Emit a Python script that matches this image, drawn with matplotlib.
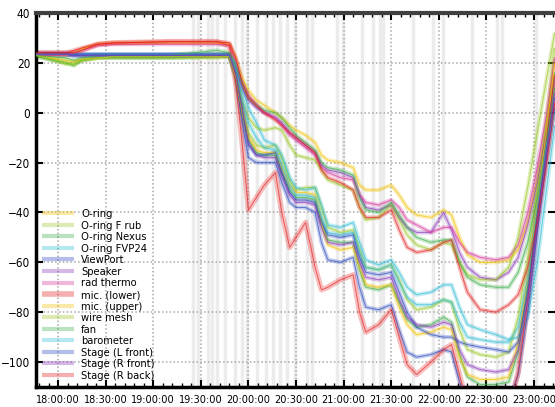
import matplotlib
matplotlib.use("Agg")
import matplotlib.pyplot as plt
from matplotlib.ticker import MultipleLocator, FuncFormatter
from matplotlib import font_manager

names = {f.name for f in font_manager.fontManager.ttflist}
narrow = [n for n in ["Liberation Sans Narrow", "DejaVu Sans Condensed"] if n in names]
plt.rcParams['font.family'] = narrow + ['DejaVu Sans']
plt.rcParams['font.stretch'] = 'condensed'

# time axis: minutes after 18:00:00
t = [-14, 5, 10, 15, 25, 35, 70, 100, 108,
     112, 116, 120, 125, 130, 137,
     141, 146, 150, 156, 162, 166, 170,
     178, 186, 190, 194, 202, 210,
     215, 220, 226, 235, 243, 248,
     253, 258, 266, 276, 284, 290,
     296, 302, 308, 313]

# light grey event markers (minutes after 18:00)
events = [85, 88, 94.5, 97, 100, 105, 111.5, 116, 119, 125.4, 131, 135.5, 140,
          144.3, 149.3, 157, 160, 176, 179.6, 191.5, 198.5, 203, 205, 223.7,
          236, 242.6, 261, 276.6, 279.8, 301]

o_ring = [23.5, 23, 24, 25.5, 27.5, 28, 28, 28, 27.5,
          22, 14, 9, 5, 3, 0,
          -2, -5, -7, -9, -12, -17, -19,
          -20, -22, -29, -31, -31, -29,
          -33, -38, -41, -42, -39, -41,
          -50, -57, -60, -60, -59, -55,
          -44, -27, -5, 15]
o_ring_f_rub = [23, 19.5, 20, 21, 22, 22, 22, 22, 22.5,
                15, 2, -8, -13, -14, -13,
                -18, -27, -31, -30, -30, -38, -46,
                -48, -47, -55, -62, -63, -61,
                -67, -75, -79, -78, -75, -76,
                -87, -95, -97, -98, -96, -82,
                -58, -30, -2, 26]
o_ring_nexus = [22.5, 20, 19, 21, 22, 22, 22, 22.5, 22.5,
                14, -1, -11, -16, -17, -17,
                -24, -31, -34, -34, -35, -44, -51,
                -52, -52, -63, -70, -71, -69,
                -76, -83, -86, -85, -82, -84,
                -97, -106, -109, -109, -108, -96,
                -70, -40, -10, 16]
o_ring_fvp24 = [23.5, 23.5, 23.5, 23.5, 23.5, 23.5, 23.5, 23.5, 23.5,
                20, 10, 2, -4, -11, -13,
                -17, -26, -30, -31, -30, -37, -45,
                -46, -44, -52, -59, -61, -59,
                -64, -70, -73, -72, -69, -69,
                -78, -85, -87, -89, -91, -90,
                -82, -60, -30, -5]
viewport = [24, 24, 23.5, 23.5, 23.5, 23.5, 23.5, 23.5, 23.5,
            14, -4, -18, -20, -20, -20,
            -28, -36, -38, -38, -40, -52, -59,
            -60, -58, -70, -78, -79, -77,
            -87, -96, -98, -97, -95, -96,
            -108, -115, -117, -117, -116, -105,
            -80, -48, -18, 2]
speaker = [23.5, 23.5, 23, 23, 23, 23, 23, 23, 23,
           18, 10, 5, 2, 0, -2,
           -4, -8, -10, -13, -16, -21, -23,
           -24, -26, -33, -38, -39, -37,
           -42, -46, -48, -48, -40, -47,
           -56, -62, -66, -67, -64, -58,
           -45, -28, -6, 14]
rad_thermo = [23, 23, 24, 25, 27, 27.5, 27.5, 27.5, 27,
              21, 12, 7, 3, 0, -2,
              -5, -9, -11, -14, -17, -22, -24,
              -26, -27, -33, -36, -37, -35,
              -38, -43, -45, -48, -46, -46,
              -52, -56, -58, -59, -58, -53,
              -40, -22, 0, 22]
mic_lower = [24, 24, 24, 25, 27.5, 28, 28.5, 28.5, 27,
             12, -12, -39, -34, -29, -24,
             -40, -54, -50, -44, -62, -71, -70,
             -67, -65, -80, -88, -85, -79,
             -90, -101, -105, -100, -95, -93,
             -105, -118, -122, -122, -120, -104,
             -75, -40, -10, 15]
mic_upper = [23, 21, 20.5, 21.5, 22, 22.5, 22.5, 22.5, 22.5,
             14, 0, -10, -15, -16, -16,
             -22, -29, -32, -32, -33, -44, -53,
             -55, -54, -62, -69, -70, -69,
             -78, -85, -89, -88, -86, -87,
             -98, -105, -107, -107, -106, -92,
             -66, -36, -6, 20]
wire_mesh = [23, 20, 19, 21, 22, 22.5, 22.5, 23, 23,
             16, 5, -2, -6, -7, -6,
             -7, -13, -17, -18, -19, -23, -27,
             -29, -31, -38, -43, -42, -37,
             -43, -49, -53, -55, -52, -53,
             -60, -65, -67, -67, -62, -50,
             -30, -8, 14, 32]
fan = [23, 22, 21, 22, 23, 23, 23, 25, 24,
       19, 12, 6, 3, 1, 0,
       -2, -6, -9, -12, -15, -20, -22,
       -23, -25, -34, -39, -40, -36,
       -41, -46, -50, -52, -51, -51,
       -60, -66, -69, -70, -70, -64,
       -52, -34, -12, 10]
barometer = [23.5, 23.5, 23, 23, 23, 23, 23, 23, 23,
             18, 6, -4, -10, -14, -15,
             -21, -29, -33, -33, -34, -42, -48,
             -49, -48, -56, -62, -63, -61,
             -68, -74, -77, -77, -75, -76,
             -84, -90, -91, -92, -92, -86,
             -66, -38, -12, 0]
stage_l_front = [23.5, 23.5, 23, 23, 23, 23, 23, 23, 23,
                 16, 2, -13, -17, -17, -16,
                 -24, -32, -35, -35, -36, -44, -49,
                 -50, -49, -58, -64, -65, -64,
                 -72, -80, -86, -89, -90, -90,
                 -92, -93, -94, -95, -96, -92,
                 -72, -42, -14, 6]
stage_r_front = [23.5, 23.5, 23, 23, 23, 23, 23, 23, 23,
                 15, 1, -12, -17, -18, -18,
                 -25, -33, -36, -36, -37, -46, -52,
                 -53, -52, -60, -66, -67, -66,
                 -75, -82, -85, -86, -84, -85,
                 -95, -101, -103, -104, -103, -95,
                 -75, -45, -15, 8]
stage_r_back = [24, 24, 25, 26, 27.5, 28, 28.5, 28.5, 28,
                22, 12, 6, 3, 0, -3,
                -5, -8, -10, -13, -16, -23, -26,
                -28, -31, -38, -42, -42, -39,
                -47, -54, -56, -55, -52, -51,
                -62, -72, -79, -80, -77, -73,
                -62, -44, -20, 4]

labels = ["O-ring", "O-ring F rub", "O-ring Nexus", "O-ring FVP24", "ViewPort",
          "Speaker", "rad thermo", "mic. (lower)", "mic. (upper)", "wire mesh",
          "fan", "barometer", "Stage (L front)", "Stage (R front)", "Stage (R back)"]
values = [o_ring, o_ring_f_rub, o_ring_nexus, o_ring_fvp24, viewport,
          speaker, rad_thermo, mic_lower, mic_upper, wire_mesh,
          fan, barometer, stage_l_front, stage_r_front, stage_r_back]
colors = ["#f2c200", "#98c820", "#3aae48", "#2cbcd6", "#2a48c0",
          "#8a36b8", "#d8309a", "#e81c1c", "#f2c200", "#98c820",
          "#3aae48", "#2cbcd6", "#2a48c0", "#8a36b8", "#e81c1c"]

fig = plt.figure(figsize=(5.55, 4.07), dpi=100)
ax = fig.add_axes([36 / 555, 20 / 407, 519 / 555, 374 / 407])

for e in events:
    ax.axvline(e, color="#ececec", lw=2.5, zorder=0)

ax.grid(True, which="major", color="#a8a8a8", ls=(0, (1, 1.5)), lw=1.1, zorder=1)

handles = []
for lab, v, c in zip(labels, values, colors):
    lw = 4 if lab == "mic. (lower)" else 3
    h, = ax.plot(t, v, color=c, lw=lw, alpha=0.28, solid_capstyle="butt", zorder=2, label=lab)
    ax.plot(t, v, color=c, lw=0.7, alpha=0.65, zorder=3)
    handles.append(h)

ax.set_xlim(-13.9, 313.2)
ax.set_ylim(-110, 40)
ax.xaxis.set_major_locator(MultipleLocator(30))
ax.xaxis.set_minor_locator(MultipleLocator(6))
ax.yaxis.set_major_locator(MultipleLocator(20))
ax.xaxis.set_major_formatter(FuncFormatter(
    lambda m, p: "%d:%02d:00" % (18 + int(round(m)) // 60, int(round(m)) % 60)))

ax.tick_params(which="both", direction="in", top=True, right=True)
ax.tick_params(which="major", length=5, width=1.5)
ax.tick_params(which="minor", length=3, width=1)
ax.tick_params(axis="x", pad=6, labelsize=7.8)
ax.tick_params(axis="y", pad=4, labelsize=8.5)

for s in ["left", "bottom"]:
    ax.spines[s].set_linewidth(2.5)
    ax.spines[s].set_color("black")
ax.spines["top"].set_linewidth(3)
ax.spines["top"].set_color("#404040")
ax.spines["right"].set_visible(False)

leg = ax.legend(handles=handles, loc="lower left", bbox_to_anchor=(0.0, 0.0),
                frameon=False, fontsize=8, handlelength=2.9, handletextpad=0.6,
                labelspacing=0.14, borderaxespad=0.15)
for h in leg.legend_handles:
    h.set_alpha(0.35)

fig.savefig("out.png", dpi=100)
